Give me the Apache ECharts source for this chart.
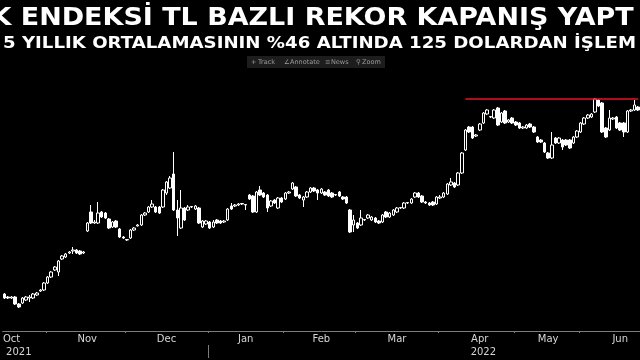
<!DOCTYPE html>
<html><head><meta charset="utf-8">
<script src="https://cdn.jsdelivr.net/npm/echarts@6/dist/echarts.min.js"></script>
<style>html,body{margin:0;padding:0;background:#000;} #c{width:640px;height:360px;}</style>
</head><body><div id="c"></div>
<script>
// Trading days shown (Borsa Istanbul), per month
const monthDays = [
  ['2021-10', [13,14,15,18,19,20,21,22,25,26,27,28]],
  ['2021-11', [1,2,3,4,5,8,9,10,11,12,15,16,17,18,19,22,23,24,25,26,29,30]],
  ['2021-12', [1,2,3,6,7,8,9,10,13,14,15,16,17,20,21,22,23,24,27,28,29,30,31]],
  ['2022-01', [3,4,5,6,7,10,11,12,13,14,17,18,19,20,21,24,25,26,27,28,31]],
  ['2022-02', [1,2,3,4,7,8,9,10,11,14,15,16,17,18,21,22,23,24,25,28]],
  ['2022-03', [1,2,3,4,7,8,9,10,11,14,15,16,17,18,21,22,23,24,25,28,29,30,31]],
  ['2022-04', [1,4,5,6,7,8,11,12,13,14,15,18,19,20,21,22,25,26,27,28,29]],
  ['2022-05', [5,6,9,10,11,12,13,16,17,18,20,23,24,25,26,27,30,31]],
  ['2022-06', [1,2,3,6,7,8,9,10,13,14,15,16,17,20,21,22,23]]
];

const opens = [824,812,808,812,784,788,800,808,808,820,
836,840,868,892,920,912,964,972,988,996,
1000,996,988,1076,1152,1108,1108,1152,1148,1124,
1092,1116,1084,1052,1040,1048,1080,1096,1100,1140,
1152,1172,1172,1172,1172,1228,1248,1304,1160,1088,
1168,1160,1172,1164,1168,1092,1104,1112,1092,1120,
1116,1112,1120,1176,1176,1180,1184,1180,1220,1216,
1152,1240,1228,1220,1176,1200,1168,1208,1204,1228,
1244,1252,1220,1200,1212,1232,1248,1240,1228,1232,
1240,1228,1220,1232,1212,1212,1160,1100,1108,1100,
1120,1128,1120,1128,1116,1112,1152,1132,1140,1152,
1168,1168,1188,1188,1212,1228,1216,1192,1188,1192,
1184,1208,1212,1224,1260,1268,1260,1308,1400,1492,
1492,1456,1480,1508,1544,1532,1528,1568,1512,1556,
1512,1528,1512,1508,1488,1488,1504,1492,1452,1440,
1428,1388,1368,1448,1428,1440,1440,1440,1428,1452,
1472,1504,1528,1532,1552,1600,1588,1488,1480,1524,
1532,1508,1508,1472,1556,1560,1572];

const closes = [808,808,812,784,772,808,812,812,824,828,
840,868,892,912,932,956,976,984,992,1000,
988,984,992,1108,1108,1112,1148,1132,1128,1088,
1112,1092,1052,1048,1042,1080,1088,1100,1140,1148,
1172,1184,1152,1148,1240,1272,1288,1160,1128,1168,
1120,1172,1174,1176,1108,1116,1116,1088,1112,1108,
1108,1116,1164,1164,1180,1184,1186,1182,1204,1152,
1232,1220,1212,1168,1196,1188,1208,1192,1228,1232,
1268,1216,1208,1212,1232,1248,1236,1228,1244,1220,
1216,1212,1222,1216,1204,1188,1072,1120,1088,1128,
1122,1140,1132,1112,1108,1140,1132,1148,1160,1168,
1170,1188,1190,1204,1228,1212,1192,1188,1180,1180,
1212,1212,1228,1264,1272,1252,1308,1388,1480,1472,
1448,1460,1504,1548,1560,1534,1560,1500,1548,1508,
1520,1508,1500,1488,1492,1500,1492,1472,1432,1432,
1392,1368,1420,1428,1448,1412,1420,1408,1452,1476,
1508,1528,1540,1544,1604,1576,1472,1452,1528,1528,
1488,1480,1472,1556,1560,1580,1560];

const lows = [804,804,804,780,768,784,796,792,804,816,
832,836,864,888,916,896,960,968,984,984,
984,980,984,1072,1104,1104,1104,1128,1124,1084,
1088,1088,1048,1044,1036,1044,1076,1094,1096,1136,
1148,1168,1148,1144,1168,1220,1244,1156,1056,1084,
1116,1156,1168,1160,1104,1088,1100,1084,1088,1104,
1104,1108,1116,1160,1172,1176,1180,1160,1200,1148,
1148,1216,1208,1152,1172,1184,1164,1188,1200,1224,
1240,1212,1204,1172,1208,1228,1232,1200,1224,1216,
1212,1208,1216,1212,1200,1184,1068,1072,1084,1096,
1116,1124,1116,1108,1104,1108,1128,1128,1136,1148,
1164,1164,1184,1184,1208,1208,1188,1184,1176,1176,
1180,1204,1208,1220,1256,1248,1256,1304,1396,1468,
1444,1452,1476,1504,1540,1528,1524,1496,1508,1504,
1508,1504,1496,1484,1484,1484,1488,1468,1428,1428,
1388,1364,1364,1424,1424,1400,1416,1404,1424,1448,
1468,1500,1524,1528,1548,1572,1468,1448,1476,1520,
1484,1476,1452,1468,1552,1556,1556];

const highs = [828,816,816,816,788,812,816,820,828,832,
844,872,896,916,936,960,980,988,996,1012,
1004,1000,996,1112,1180,1120,1192,1156,1152,1128,
1116,1120,1088,1056,1044,1084,1092,1104,1144,1152,
1176,1200,1176,1176,1244,1276,1296,1392,1200,1240,
1172,1180,1176,1180,1172,1120,1120,1116,1120,1124,
1120,1120,1168,1188,1184,1188,1188,1184,1224,1220,
1236,1256,1232,1224,1200,1204,1212,1212,1232,1236,
1272,1256,1224,1216,1236,1252,1252,1244,1248,1236,
1244,1232,1224,1236,1216,1216,1164,1140,1112,1160,
1124,1144,1136,1132,1120,1144,1156,1152,1164,1172,
1172,1192,1192,1208,1232,1232,1220,1196,1192,1196,
1216,1220,1232,1268,1288,1272,1312,1392,1484,1496,
1496,1464,1508,1552,1564,1536,1564,1572,1552,1560,
1524,1532,1516,1512,1496,1504,1508,1496,1456,1444,
1432,1392,1472,1452,1452,1444,1444,1444,1456,1480,
1512,1532,1544,1548,1608,1604,1592,1492,1560,1532,
1536,1512,1512,1560,1564,1600,1576];

const monthLabels = [
  ['2021-10-15','Oct'],['2021-11-16','Nov'],['2021-12-16','Dec'],
  ['2022-01-17','Jan'],['2022-02-15','Feb'],['2022-03-16','Mar'],
  ['2022-04-18','Apr'],['2022-05-18','May'],['2022-06-16','Jun']
];
const yearLabels = [['2021-10-19','2021'],['2022-04-19','2022']];
const yearBoundary = '2022-01-03';
const recordClose = 1604;
const recordStart = '2022-04-12';
const titleText = 'K ENDEKSİ TL BAZLI REKOR KAPANIŞ YAPT';
const subtitleText = '5 YILLIK ORTALAMASININ %46 ALTINDA 125 DOLARDAN İŞLEM';
const toolbarIcons = ['+', '∠', '≡', '⚲'];
const toolbarNames = ['Track', 'Annotate', 'News', 'Zoom'];

const dates = [];
const monthStart = new Set();
monthDays.forEach(([ym, days]) => {
  monthStart.add(dates.length);
  days.forEach(d => dates.push(ym + '-' + String(d).padStart(2, '0')));
});
const yearStart = dates.indexOf(yearBoundary);
const mLab = Object.fromEntries(monthLabels);
const yLab = Object.fromEntries(yearLabels);
const yearLabelIdx = yearLabels.map(([d]) => dates.indexOf(d));
const ohlc = dates.map((d, i) => [opens[i], closes[i], lows[i], highs[i]]);

const axisGray = '#7c7c7c';
const labelStyle = {color: '#d6d6d6', fontSize: 10, fontFamily: 'DejaVu Sans'};
const iconX = [251, 284, 325, 356];
const nameX = [258, 290, 331, 362];
const toolText = (t, x) => ({type: 'text', x: x, y: 62,
  style: {text: t, fill: '#9c9c9c', font: '6.5px "DejaVu Sans"', verticalAlign: 'middle'}});

const chart = echarts.init(document.getElementById('c'), null, {renderer: 'canvas'});
chart.setOption({
  backgroundColor: '#000',
  animation: false,
  graphic: [
    {type: 'text', x: -9.5, y: 6, scaleX: 1.1, scaleY: 1,
     style: {text: titleText, fill: '#fff', font: 'bold 24.5px "DejaVu Sans"', verticalAlign: 'top'}},
    {type: 'text', x: 3, y: 36, scaleX: 1.135, scaleY: 1,
     style: {text: subtitleText, fill: '#fff', font: 'bold 16px "DejaVu Sans"', verticalAlign: 'top'}},
    {type: 'rect', x: 247, y: 56, shape: {width: 138, height: 12}, style: {fill: '#1d1d1d'}},
    ...toolbarIcons.map((t, i) => toolText(t, iconX[i])),
    ...toolbarNames.map((t, i) => toolText(t, nameX[i]))
  ],
  grid: {left: 0, right: 0, top: 81, bottom: 29},
  xAxis: [
    {type: 'category', data: dates, boundaryGap: true,
     axisLine: {show: true, lineStyle: {color: axisGray, width: 1}},
     axisTick: {show: true, length: 2, interval: (i) => i > 0 && monthStart.has(i), lineStyle: {color: axisGray}},
     axisLabel: Object.assign({margin: 3, interval: (i, v) => v in mLab, formatter: (v) => mLab[v] || ''}, labelStyle),
     splitLine: {show: false}},
    {type: 'value', min: -0.5, max: dates.length - 0.5, position: 'bottom', offset: 14,
     axisLine: {show: false},
     axisTick: {show: true, length: 13, customValues: [yearStart - 0.5], lineStyle: {color: axisGray}},
     axisLabel: Object.assign({margin: 2, customValues: yearLabelIdx, formatter: (v) => yLab[dates[Math.round(v)]] || ''}, labelStyle),
     splitLine: {show: false}}
  ],
  yAxis: {type: 'value', min: 676, max: 1676, show: false, splitLine: {show: false}},
  series: [{
    type: 'candlestick',
    xAxisIndex: 0,
    data: ohlc,
    barWidth: 3,
    itemStyle: {color: '#000', color0: '#fff', borderColor: '#fff', borderColor0: '#fff', borderColorDoji: '#fff', borderWidth: 1},
    markLine: {
      silent: true, symbol: ['none', 'none'], label: {show: false},
      lineStyle: {color: '#e8102c', width: 1.5, type: 'solid'},
      data: [[{coord: [recordStart, recordClose]}, {coord: [dates[dates.length - 1], recordClose]}]]
    }
  }]
});
</script></body></html>
